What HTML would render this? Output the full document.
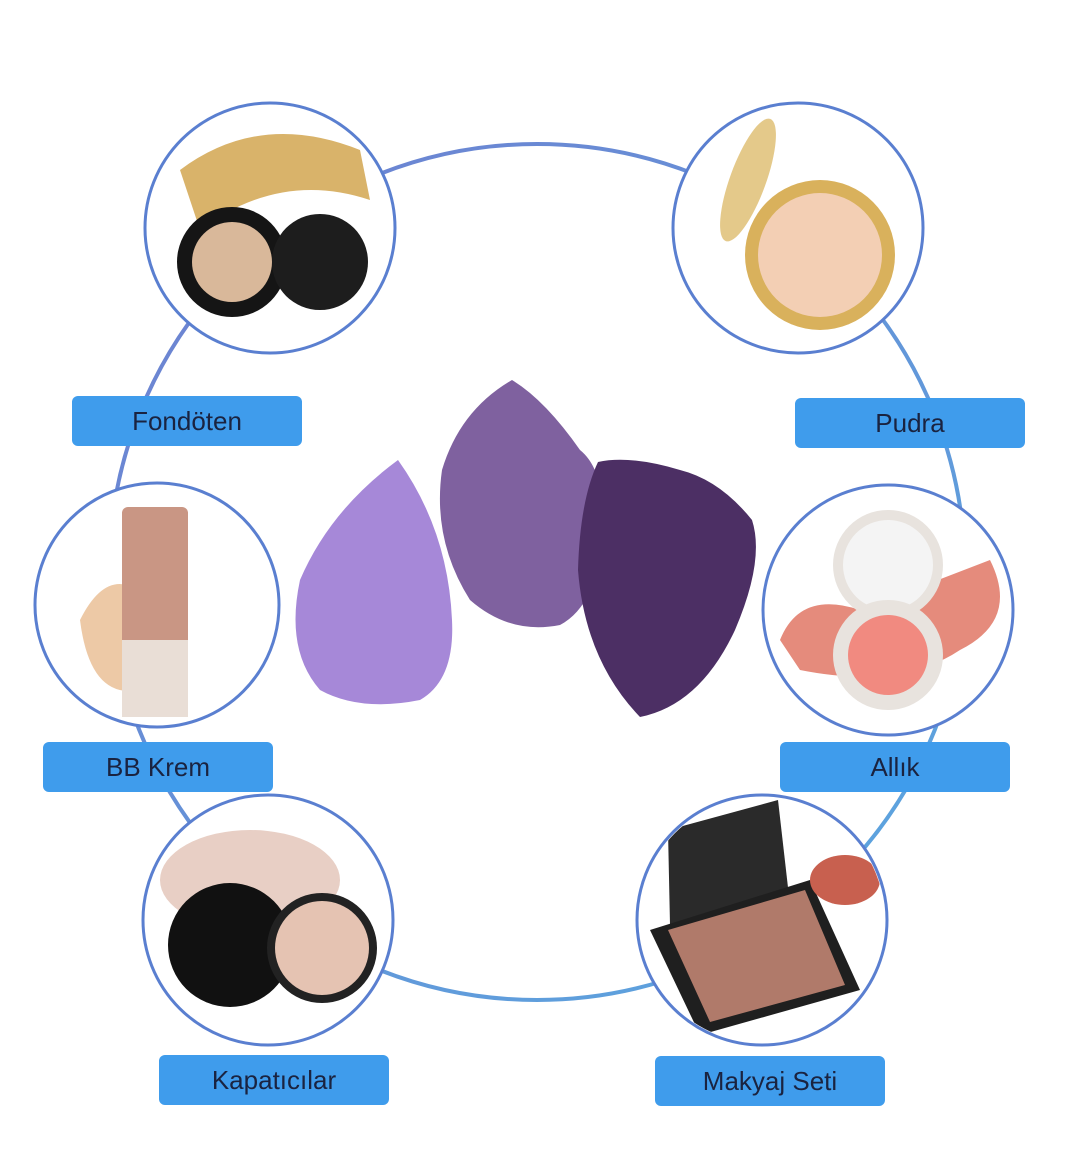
<!DOCTYPE html>
<html><head><meta charset="utf-8"><style>
html,body{margin:0;padding:0;background:#fff;}
body{width:1071px;height:1159px;position:relative;overflow:hidden;font-family:"Liberation Sans","DejaVu Sans",sans-serif;}
.lb{position:absolute;width:230px;height:50px;background:#3f9cec;border-radius:6px;color:#1a2340;font-size:26px;line-height:50px;text-align:center;}
svg{position:absolute;left:0;top:0;}
</style></head><body>
<svg width="1071" height="1159" viewBox="0 0 1071 1159">
<defs>
<linearGradient id="rg" x1="0" y1="0" x2="1" y2="1"><stop offset="0" stop-color="#6f7fd0"/><stop offset="1" stop-color="#5aa8e0"/></linearGradient>
<clipPath id="c1"><circle cx="270" cy="228" r="123"/></clipPath>
<clipPath id="c2"><circle cx="798" cy="228" r="123"/></clipPath>
<clipPath id="c3"><circle cx="157" cy="605" r="120"/></clipPath>
<clipPath id="c4"><circle cx="888" cy="610" r="123"/></clipPath>
<clipPath id="c5"><circle cx="268" cy="920" r="123"/></clipPath>
<clipPath id="c6"><circle cx="762" cy="920" r="123"/></clipPath>
</defs>
<circle cx="537" cy="572" r="428" fill="none" stroke="url(#rg)" stroke-width="4"/>
<g stroke="#5a7fd0" stroke-width="3" fill="#fff">
<circle cx="270" cy="228" r="125"/>
<circle cx="798" cy="228" r="125"/>
<circle cx="157" cy="605" r="122"/>
<circle cx="888" cy="610" r="125"/>
<circle cx="268" cy="920" r="125"/>
<circle cx="762" cy="920" r="125"/>
</g>
<g clip-path="url(#c1)">
<path d="M180 170 Q260 110 360 150 L370 200 Q280 170 200 230Z" fill="#d9b36a"/>
<circle cx="232" cy="262" r="55" fill="#151515"/><circle cx="232" cy="262" r="40" fill="#d9b89a"/>
<circle cx="320" cy="262" r="48" fill="#1d1d1d"/>
</g>
<g clip-path="url(#c2)">
<circle cx="820" cy="255" r="75" fill="#d9b15c"/><circle cx="820" cy="255" r="62" fill="#f3cfb4"/>
<ellipse cx="748" cy="180" rx="18" ry="65" fill="#e4c98a" transform="rotate(20 748 180)"/>
</g>
<g clip-path="url(#c3)">
<path d="M80 620 Q110 560 150 600 L140 690 Q90 700 80 620Z" fill="#edc9a6"/>
<rect x="122" y="507" width="66" height="210" rx="6" fill="#c99684"/>
<rect x="122" y="640" width="66" height="77" fill="#e9ded6"/>
</g>
<g clip-path="url(#c4)">
<path d="M780 640 Q800 590 860 610 L990 560 Q1020 620 960 650 Q900 690 800 670Z" fill="#e58b7c"/>
<circle cx="888" cy="565" r="55" fill="#e8e3de"/><circle cx="888" cy="565" r="45" fill="#f4f4f4"/>
<circle cx="888" cy="655" r="55" fill="#e8e3de"/><circle cx="888" cy="655" r="40" fill="#f18a80"/>
</g>
<g clip-path="url(#c5)">
<ellipse cx="250" cy="880" rx="90" ry="50" fill="#e8cfc5"/>
<circle cx="230" cy="945" r="62" fill="#111"/>
<circle cx="322" cy="948" r="55" fill="#222"/><circle cx="322" cy="948" r="47" fill="#e5c3b2"/>
</g>
<g clip-path="url(#c6)">
<polygon points="668,830 778,800 790,905 670,925" fill="#2a2a2a"/>
<polygon points="650,930 810,880 860,990 700,1035" fill="#1f1f1f"/>
<polygon points="668,930 805,890 845,985 710,1022" fill="#b07a6a"/>
<ellipse cx="845" cy="880" rx="35" ry="25" fill="#c8604f"/>
</g>
<path d="M398 460 Q330 510 300 580 Q285 650 320 690 Q360 712 420 700 Q455 680 452 620 Q448 530 398 460Z" fill="#a688d8"/>
<path d="M512 380 Q460 410 442 470 Q432 540 470 600 Q510 635 560 625 Q598 605 604 530 Q605 470 580 450 Q545 400 512 380Z" fill="#7f619f"/>
<path d="M598 462 Q580 500 578 570 Q585 660 640 717 Q700 705 735 630 Q765 560 752 520 Q720 480 680 470 Q630 455 598 462Z" fill="#4c2f64"/>
</svg>
<div class="lb" style="left:72px;top:396px">Fondöten</div>
<div class="lb" style="left:795px;top:398px">Pudra</div>
<div class="lb" style="left:43px;top:742px">BB Krem</div>
<div class="lb" style="left:780px;top:742px">Allık</div>
<div class="lb" style="left:159px;top:1055px">Kapatıcılar</div>
<div class="lb" style="left:655px;top:1056px">Makyaj Seti</div>
</body></html>
